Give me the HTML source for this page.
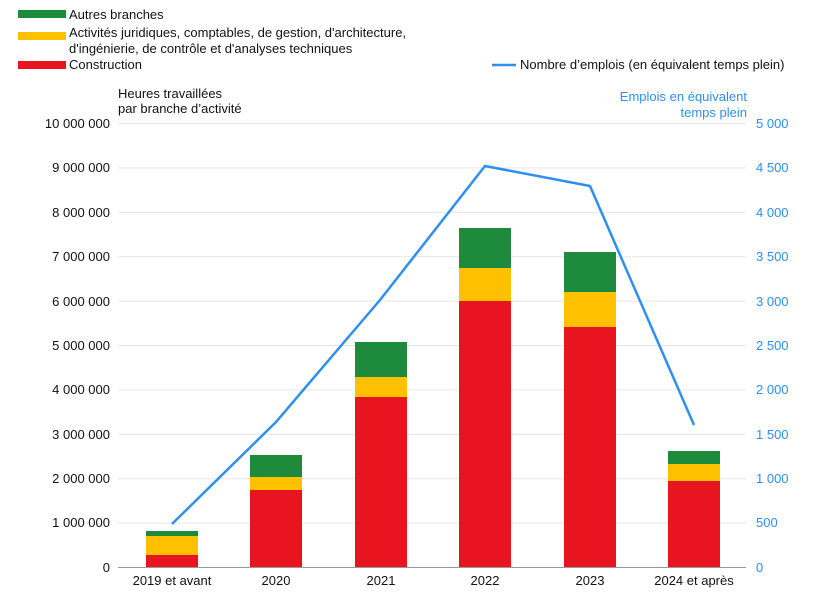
<!DOCTYPE html>
<html><head><meta charset="utf-8"><style>
body{margin:0;background:#fff;}
svg text{font-family:"Liberation Sans","DejaVu Sans",sans-serif;font-size:13px;fill:#111;}
</style></head><body>
<svg width="839" height="596" viewBox="0 0 839 596" xmlns="http://www.w3.org/2000/svg">
<!-- legend -->
<rect x="18" y="10" width="48" height="8" fill="#1e8a3c"/>
<text x="69" y="19">Autres branches</text>
<rect x="18" y="32" width="48" height="8" fill="#ffc000"/>
<text x="69" y="37">Activités juridiques, comptables, de gestion, d'architecture,</text>
<text x="69" y="53">d'ingénierie, de contrôle et d'analyses techniques</text>
<rect x="18" y="61" width="48" height="8" fill="#e8141f"/>
<text x="69" y="69">Construction</text>
<line x1="492" y1="65" x2="516" y2="65" stroke="#2e8ff0" stroke-width="2.5"/>
<text x="520" y="69">Nombre d’emplois (en équivalent temps plein)</text>
<!-- axis titles -->
<text x="118" y="98">Heures travaillées</text>
<text x="118" y="113">par branche d’activité</text>
<text x="747" y="101" text-anchor="end" style="fill:#2e8ff0">Emplois en équivalent</text>
<text x="747" y="117" text-anchor="end" style="fill:#2e8ff0">temps plein</text>
<!-- grid -->
<g stroke="#e6e6e6" stroke-width="1">
<line x1="118" y1="123.5" x2="746" y2="123.5"/><line x1="118" y1="167.9" x2="746" y2="167.9"/>
<line x1="118" y1="212.3" x2="746" y2="212.3"/><line x1="118" y1="256.7" x2="746" y2="256.7"/>
<line x1="118" y1="301.1" x2="746" y2="301.1"/><line x1="118" y1="345.5" x2="746" y2="345.5"/>
<line x1="118" y1="389.9" x2="746" y2="389.9"/><line x1="118" y1="434.3" x2="746" y2="434.3"/>
<line x1="118" y1="478.7" x2="746" y2="478.7"/><line x1="118" y1="523.1" x2="746" y2="523.1"/>
</g>
<line x1="118" y1="567.5" x2="746" y2="567.5" stroke="#999"/>
<g text-anchor="end">
<text x="110" y="128">10 000 000</text><text x="110" y="172">9 000 000</text><text x="110" y="217">8 000 000</text>
<text x="110" y="261">7 000 000</text><text x="110" y="306">6 000 000</text><text x="110" y="350">5 000 000</text>
<text x="110" y="394">4 000 000</text><text x="110" y="439">3 000 000</text><text x="110" y="483">2 000 000</text>
<text x="110" y="527">1 000 000</text><text x="110" y="572">0</text>
</g>
<g style="fill:#2e8ff0">
<text x="756" y="128" style="fill:#2e8ff0">5 000</text><text x="756" y="172" style="fill:#2e8ff0">4 500</text>
<text x="756" y="217" style="fill:#2e8ff0">4 000</text><text x="756" y="261" style="fill:#2e8ff0">3 500</text>
<text x="756" y="306" style="fill:#2e8ff0">3 000</text><text x="756" y="350" style="fill:#2e8ff0">2 500</text>
<text x="756" y="394" style="fill:#2e8ff0">2 000</text><text x="756" y="439" style="fill:#2e8ff0">1 500</text>
<text x="756" y="483" style="fill:#2e8ff0">1 000</text><text x="756" y="527" style="fill:#2e8ff0">500</text>
<text x="756" y="572" style="fill:#2e8ff0">0</text>
</g>
<!-- bars -->
<g>
<rect x="146" y="555" width="52" height="12" fill="#e8141f"/><rect x="146" y="536" width="52" height="19" fill="#ffc000"/><rect x="146" y="531" width="52" height="5" fill="#1e8a3c"/>
<rect x="250" y="490" width="52" height="77" fill="#e8141f"/><rect x="250" y="477" width="52" height="13" fill="#ffc000"/><rect x="250" y="455" width="52" height="22" fill="#1e8a3c"/>
<rect x="355" y="397" width="52" height="170" fill="#e8141f"/><rect x="355" y="377" width="52" height="20" fill="#ffc000"/><rect x="355" y="342" width="52" height="35" fill="#1e8a3c"/>
<rect x="459" y="301" width="52" height="266" fill="#e8141f"/><rect x="459" y="268" width="52" height="33" fill="#ffc000"/><rect x="459" y="228" width="52" height="40" fill="#1e8a3c"/>
<rect x="564" y="327" width="52" height="240" fill="#e8141f"/><rect x="564" y="292" width="52" height="35" fill="#ffc000"/><rect x="564" y="252" width="52" height="40" fill="#1e8a3c"/>
<rect x="668" y="481" width="52" height="86" fill="#e8141f"/><rect x="668" y="464" width="52" height="17" fill="#ffc000"/><rect x="668" y="451" width="52" height="13" fill="#1e8a3c"/>
</g>
<polyline points="172,524 276,422 380,300 485,166 590,186 694,425" fill="none" stroke="#2e8ff0" stroke-width="2.5"/>
<g text-anchor="middle">
<text x="172" y="585">2019 et avant</text><text x="276" y="585">2020</text><text x="381" y="585">2021</text>
<text x="485" y="585">2022</text><text x="590" y="585">2023</text><text x="694" y="585">2024 et après</text>
</g>
</svg>
</body></html>
